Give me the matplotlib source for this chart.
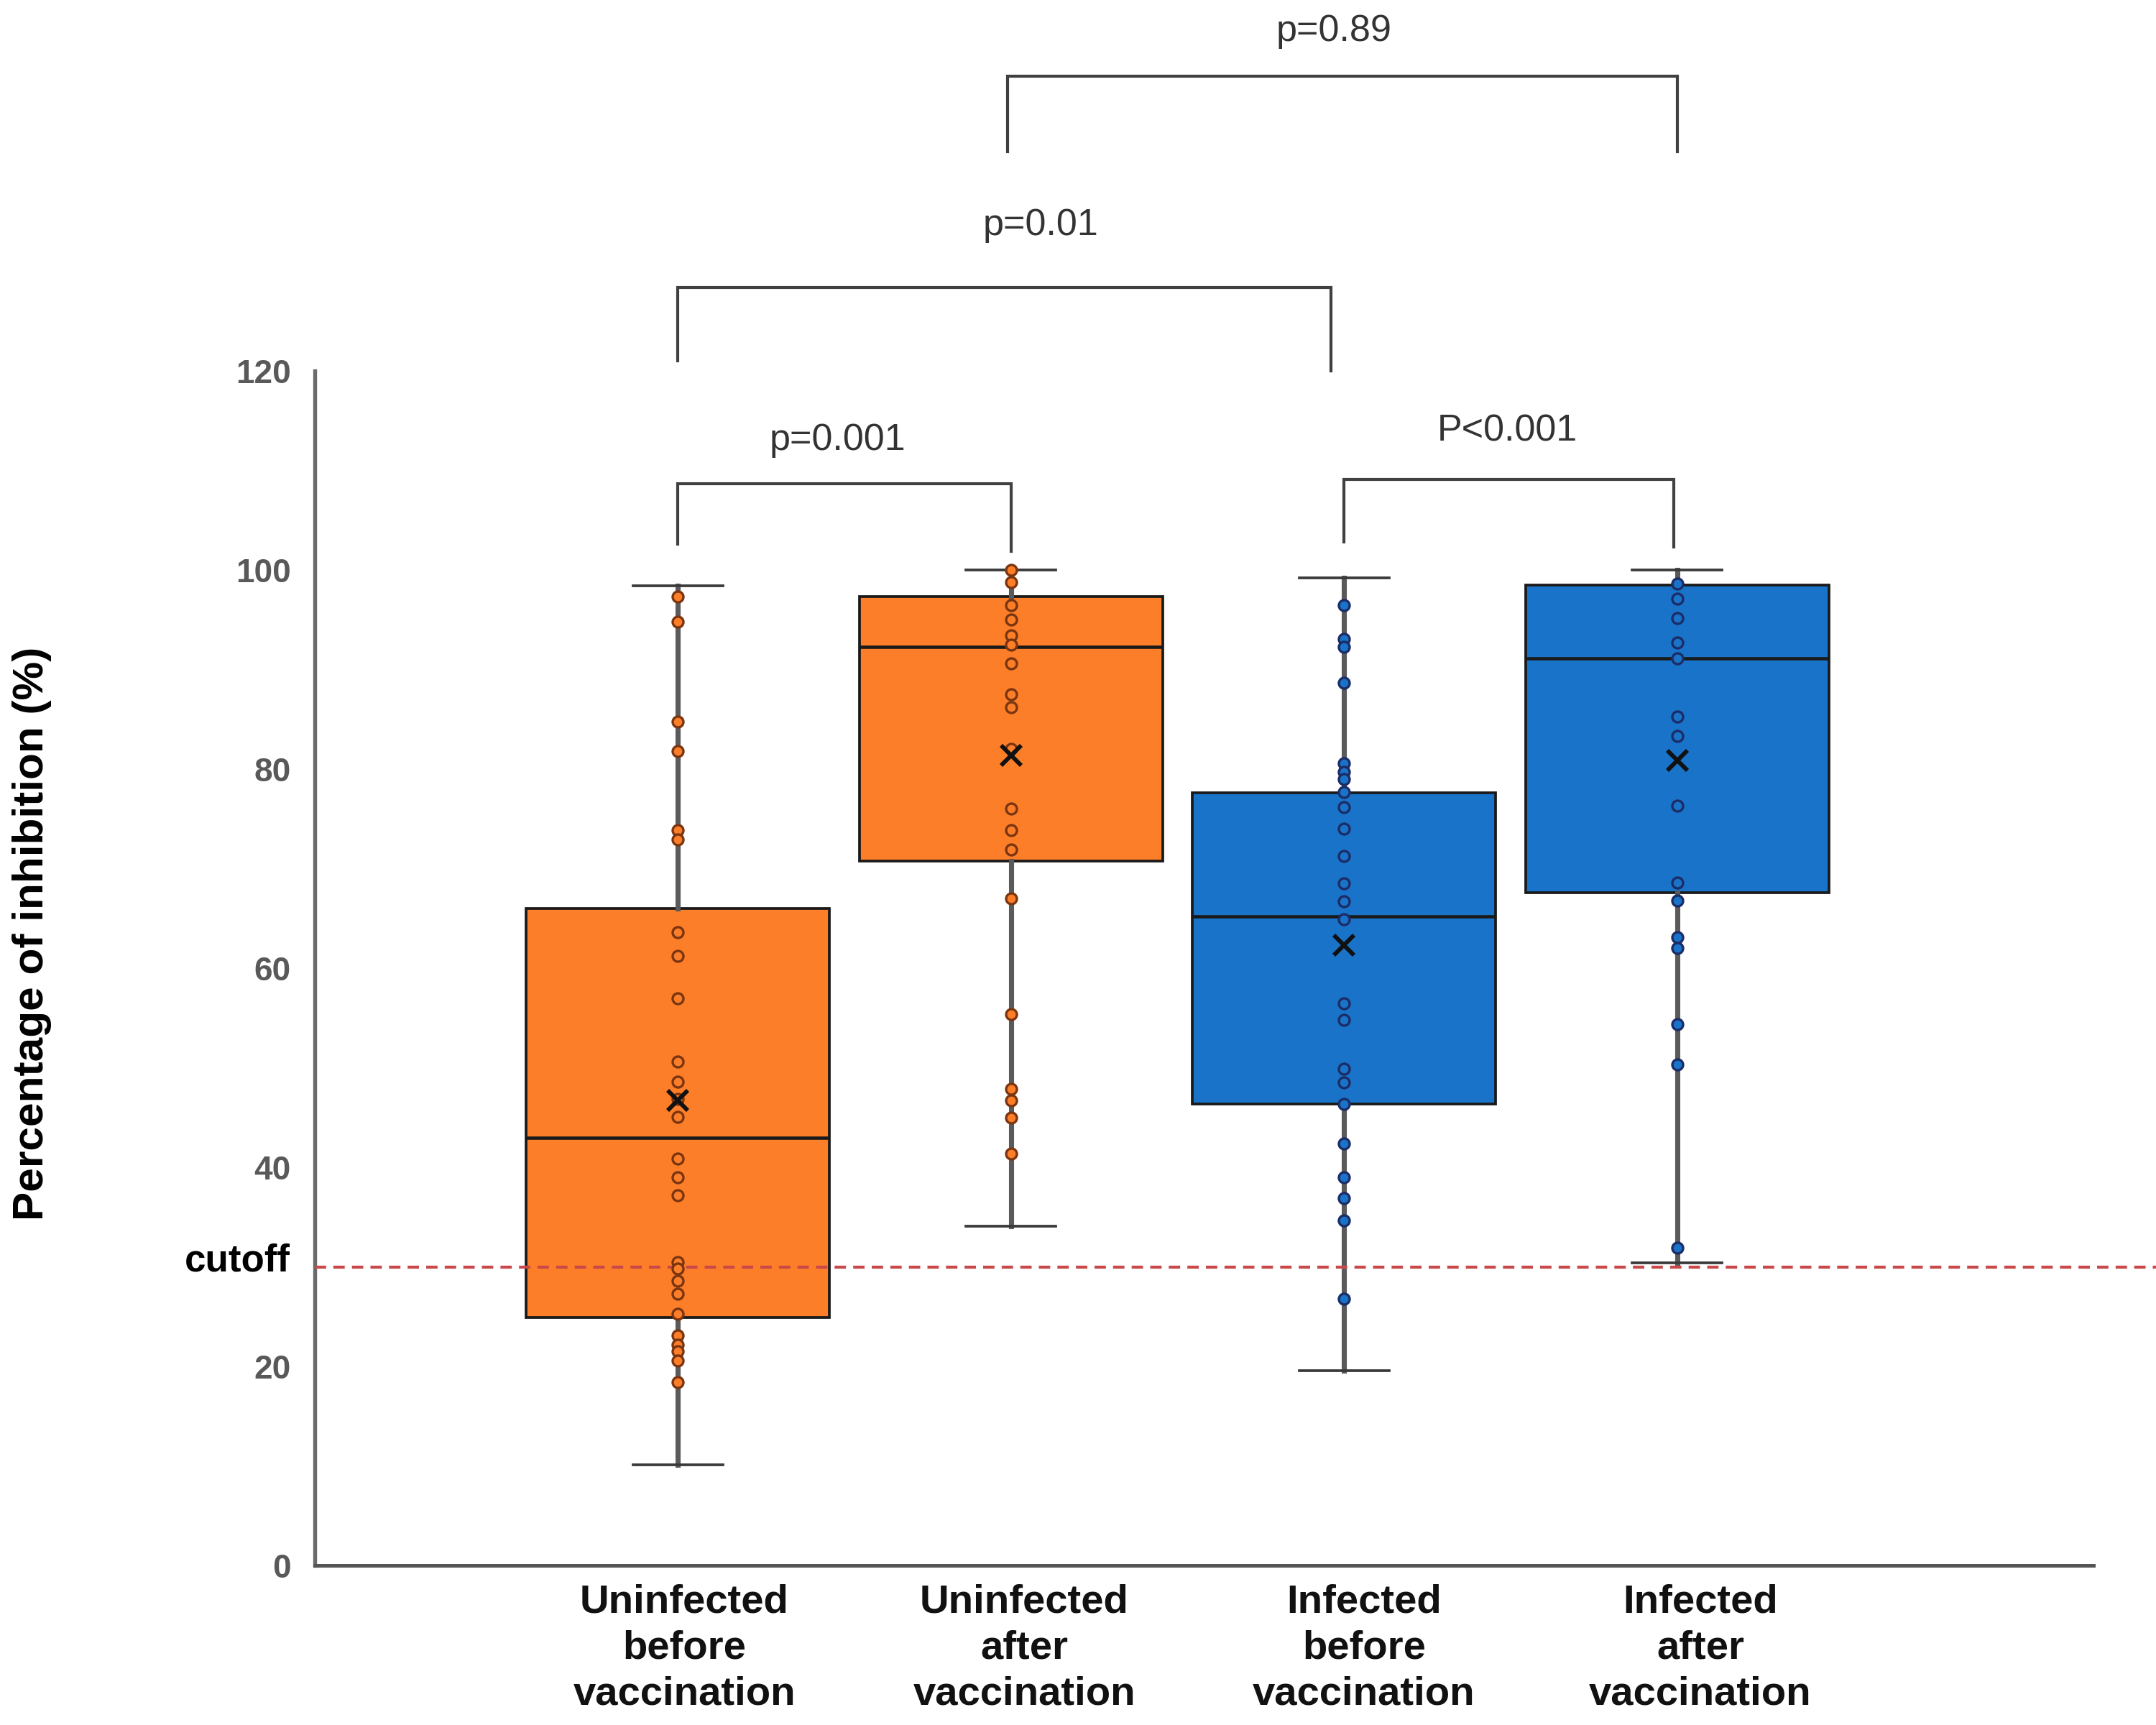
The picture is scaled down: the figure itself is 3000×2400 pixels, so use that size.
import matplotlib
matplotlib.use('Agg')
import matplotlib.pyplot as plt
import matplotlib.transforms as mtransforms

plt.rcParams['font.family'] = ['Liberation Sans', 'DejaVu Sans']

# data
groups = ['Uninfected\nbefore\nvaccination', 'Uninfected\nafter\nvaccination',
          'Infected\nbefore\nvaccination', 'Infected\nafter\nvaccination']

uninf_before = [97.3, 94.8, 84.8, 81.8, 73.9, 72.9, 63.6, 61.2, 57.0, 50.6, 48.6, 46.9,
                45.1, 40.9, 39.0, 37.2, 30.5, 29.8, 28.6, 27.3, 25.3, 23.1, 22.2, 21.5,
                20.6, 18.4]
uninf_after = [100.0, 98.8, 96.5, 95.0, 93.4, 92.5, 90.6, 87.5, 86.2, 82.0, 76.0, 73.9,
               71.9, 67.0, 55.4, 47.9, 46.7, 45.0, 41.4]
inf_before = [96.5, 93.1, 92.3, 88.7, 80.6, 79.7, 79.0, 77.7, 76.2, 74.0, 71.3, 68.5,
              66.7, 64.9, 56.5, 54.8, 49.9, 48.5, 46.4, 42.4, 39.0, 36.9, 34.7, 26.8]
inf_after = [98.6, 97.1, 95.2, 92.7, 91.1, 85.3, 83.3, 76.3, 68.6, 66.8, 63.1, 62.0,
             54.4, 50.3, 31.9]
points = [uninf_before, uninf_after, inf_before, inf_after]

whis_lo = [10.1, 34.1, 19.6, 30.4]
q1 = [24.9, 70.8, 46.4, 67.6]
med = [43.0, 92.3, 65.2, 91.1]
q3 = [66.0, 97.3, 77.6, 98.5]
whis_hi = [98.4, 100.0, 99.2, 100.0]
means = [46.7, 81.4, 62.3, 80.9]

cutoff = 30

# (left group, right group, p text)
comparisons = [(1, 2, 'p=0.001'), (3, 4, 'P<0.001'), (1, 3, 'p=0.01'), (2, 4, 'p=0.89')]

# styles / layout
positions = [1, 2, 3, 4]
label_x = [1.02, 2.04, 3.06, 4.07]
face = ['#FD7E28', '#FD7E28', '#1873C9', '#1873C9']
dot_edge = ['#7A3510', '#7A3510', '#1C2C66', '#1C2C66']
# bracket geometry: x_left, x_right, y_bar, y_leg_left, y_leg_right, text_x, text_y
bracket_geo = [(1.0, 2.0, 108.7, 102.6, 101.9, 1.48, 113.0),
               (3.0, 3.99, 109.1, 102.8, 102.3, 3.49, 113.9),
               (1.0, 2.96, 128.4, 121.0, 120.0, 2.09, 134.6),
               (1.99, 4.0, 149.6, 142.0, 142.0, 2.97, 154.1)]

fig = plt.figure(figsize=(10, 8), dpi=300)
ax = fig.add_axes([0.146, 0.0924, 0.825, 0.6926])

stats = []
for i in range(len(groups)):
    stats.append(dict(whislo=whis_lo[i], q1=q1[i], med=med[i], q3=q3[i],
                      whishi=whis_hi[i], mean=means[i], fliers=[]))

bp = ax.bxp(stats, positions=positions, widths=0.91, capwidths=0.27,
            patch_artist=True, showfliers=False, showmeans=False,
            boxprops=dict(edgecolor='#1a1a1a', linewidth=0.9),
            whiskerprops=dict(color='#5a5a5a', linewidth=1.7),
            capprops=dict(color='#3a3a3a', linewidth=0.9),
            medianprops=dict(color='#1a1a1a', linewidth=1.1))
for patch, c in zip(bp['boxes'], face):
    patch.set_facecolor(c)
    patch.set_zorder(2)

for i, pts in enumerate(points):
    ax.scatter([positions[i]] * len(pts), pts, s=13, facecolor=face[i],
               edgecolor=dot_edge[i], linewidth=0.8, zorder=4)
    ax.plot(positions[i], means[i], marker='x', markersize=6.5, mew=1.4,
            color='#111111', zorder=5)

# cutoff line, runs past the axis end
ax.plot([-0.09, 5.45], [cutoff, cutoff], color='#C9484A', lw=1.0,
        dashes=(3.8, 2.4), clip_on=False, zorder=3)
trans = mtransforms.blended_transform_factory(ax.transAxes, ax.transData)
ax.text(-0.014, cutoff + 0.6, 'cutoff', transform=trans, ha='right', va='center',
        fontsize=12.7, fontweight='bold', color='black')

# significance brackets
for (g1, g2, txt), (xl, xr, yb, yl, yr, tx, ty) in zip(comparisons, bracket_geo):
    ax.plot([xl, xl, xr, xr], [yl, yb, yb, yr], color='#404040', lw=1.0,
            clip_on=False, solid_joinstyle='miter')
    ax.text(tx, ty, txt, ha='center', va='center', fontsize=12.5, color='#333333')

ax.set_xlim(-0.09, 5.25)
ax.set_ylim(0, 120)
ax.set_yticks(range(0, 121, 20))
ax.set_xticks(label_x)
ax.set_xticklabels(groups, fontsize=13.5, fontweight='bold', color='#111111',
                   linespacing=1.3)
for lab in ax.get_yticklabels():
    lab.set_fontweight('bold')
ax.tick_params(axis='y', length=0, pad=8, labelsize=11, labelcolor='#595959')
ax.tick_params(axis='x', length=0, pad=6)

for s in ['top', 'right']:
    ax.spines[s].set_visible(False)
ax.spines['left'].set_color('#6a6a6a')
ax.spines['left'].set_linewidth(1.3)
ax.spines['bottom'].set_color('#555555')
ax.spines['bottom'].set_linewidth(1.2)

fig.text(0.015, 0.459, 'Percentage of inhibition (%)', rotation=90, ha='center',
         va='center', fontsize=14.5, fontweight='bold', color='black')

fig.savefig('out.png', dpi=300, facecolor='white')
